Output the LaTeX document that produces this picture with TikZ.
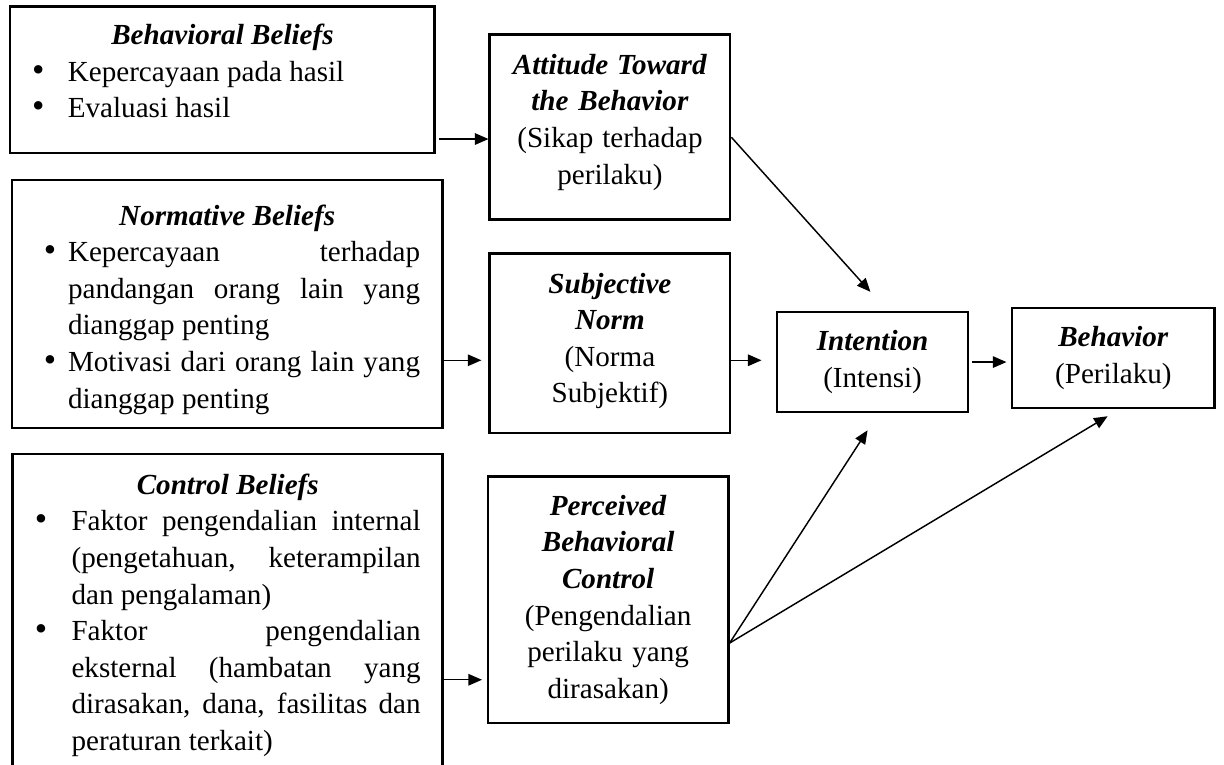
\documentclass[tikz,border=0pt]{standalone}
\usepackage{fontspec}
\setmainfont{Liberation Serif}
\usetikzlibrary{arrows.meta}

\newlength{\fillw}
\newcommand{\boxfont}{\fontsize{14pt}{17.6pt}\selectfont}
\newcommand{\heading}[1]{\textbf{\textit{#1}}}
\newcommand{\fillline}[1]{\makebox[\fillw][s]{\spaceskip=\fontdimen2\font plus 1fil\relax #1}}
% invisible rules to move the text block up or down in its box
\newcommand{\padabove}[1]{\rule{0pt}{#1}}
\newcommand{\padbelow}[1]{\rule[-#1]{0pt}{#1}}
% bullet offset, text offset, text width, item text
\newcommand{\pointitem}[4]{\par\noindent\hspace*{#1}\makebox[\dimexpr#2-#1\relax][l]{\fontsize{17pt}{17.6pt}\selectfont\textbullet}%
  \parbox[t]{#3}{\setlength{\fillw}{#3}#4\strut}\par\prevdepth=\dp\strutbox}

\tikzset{
  belief/.style={draw, line width=1.3pt, inner xsep=0pt, inner ysep=2pt,
    text width=#1, minimum width=#1, align=left, font=\boxfont,
    execute at begin node={\spaceskip=0pt\xspaceskip=0pt}},
  stage/.style={draw, line width=1.3pt, inner xsep=0pt, inner ysep=2pt,
    text width=#1, minimum width=#1, align=center, font=\boxfont,
    execute at begin node={\spaceskip=0pt\xspaceskip=0pt}},
  flow/.style={-{Triangle[length=6.5pt,width=5.5pt]}, line width=0.7pt}
}

\begin{document}
\begin{tikzpicture}
\clip (0,0) rectangle (20.69,-12.93);

% beliefs
\node[belief=7.18cm, minimum height=2.47cm] (BB) at (3.76,-1.35) {%
  {\centering\heading{Behavioral Beliefs}\par}
  \pointitem{10.6pt}{27.8pt}{6.2cm}{Kepercayaan pada hasil}
  \pointitem{10.6pt}{27.8pt}{6.2cm}{Evaluasi hasil\padbelow{8.7pt}}};
\node[belief=7.27cm, minimum height=4.19cm] (NB) at (3.84,-5.14) {%
  {\centering\padabove{17.4pt}\heading{Normative Beliefs}\par}
  \pointitem{15.3pt}{26.9pt}{5.95cm}{\fillline{Kepercayaan terhadap}\\
    \fillline{pandangan orang lain yang}\\ dianggap penting}
  \pointitem{15.3pt}{26.9pt}{5.95cm}{\fillline{Motivasi dari orang lain yang}\\ dianggap penting}};
\node[belief=7.27cm, minimum height=5.37cm] (CB) at (3.85,-10.36) {%
  {\centering\padabove{14.5pt}\heading{Control Beliefs}\par}
  \pointitem{10.6pt}{28.3pt}{5.9cm}{\fillline{Faktor pengendalian internal}\\
    \fillline{(pengetahuan, keterampilan}\\ dan pengalaman)}
  \pointitem{10.6pt}{28.3pt}{5.9cm}{\fillline{Faktor pengendalian}\\
    \fillline{eksternal (hambatan yang}\\
    \fillline{dirasakan, dana, fasilitas dan}\\ peraturan terkait)}};

% constructs
\node[stage=4.06cm, minimum height=3.13cm] (ATB) at (10.31,-2.15) {%
  \heading{Attitude Toward}\\ \heading{the Behavior}\\ (Sikap terhadap\\ perilaku)\padbelow{7.8pt}};
\node[stage=4.06cm, minimum height=3.04cm] (SN) at (10.31,-5.80) {%
  \heading{Subjective}\\ \heading{Norm}\\ (Norma\\ Subjektif)\padbelow{5pt}};
\node[stage=4.06cm, minimum height=4.16cm] (PBC) at (10.28,-10.14) {%
  \heading{Perceived}\\ \heading{Behavioral}\\ \heading{Control}\\ (Pengendalian\\ perilaku yang\\ dirasakan)};
\node[stage=3.23cm, minimum height=1.69cm] (INT) at (14.75,-6.12) {%
  \heading{Intention}\\ (Intensi)};
\node[stage=3.43cm, minimum height=1.69cm] (BEH) at (18.82,-6.05) {%
  \heading{Behavior}\\ (Perilaku)};

% arrows
\coordinate (bbout) at ([yshift=-1cm]BB.east);
\coordinate (nbout) at ([yshift=-0.95cm]NB.east);
\coordinate (cbout) at ([yshift=-1.13cm]CB.east);
\coordinate (snout) at ([yshift=-0.29cm]SN.east);
\coordinate (atbout) at ([yshift=-0.17cm]ATB.east);
\coordinate (pbcout) at ([yshift=-0.73cm]PBC.east);

\draw[flow, shorten <=0.05cm] (bbout) -- (bbout -| ATB.west);
\draw[flow, shorten >=0.12cm] (nbout) -- (nbout -| SN.west);
\draw[flow, shorten >=0.08cm] (cbout) -- (cbout -| PBC.west);
\draw[flow, shorten >=0.24cm] (snout) -- (snout -| INT.west);
\draw[flow, shorten <=0.05cm, shorten >=0.07cm] (INT.east) -- (INT.east -| BEH.west);
\draw[flow, shorten >=0.43cm] (atbout) -- ([xshift=0.25cm]INT.north);
\draw[flow, shorten >=0.34cm] (pbcout) -- ([xshift=0.1cm]INT.south);
\draw[flow, shorten >=0.23cm] (pbcout) -- ([xshift=0.1cm]BEH.south);
\end{tikzpicture}
\end{document}
